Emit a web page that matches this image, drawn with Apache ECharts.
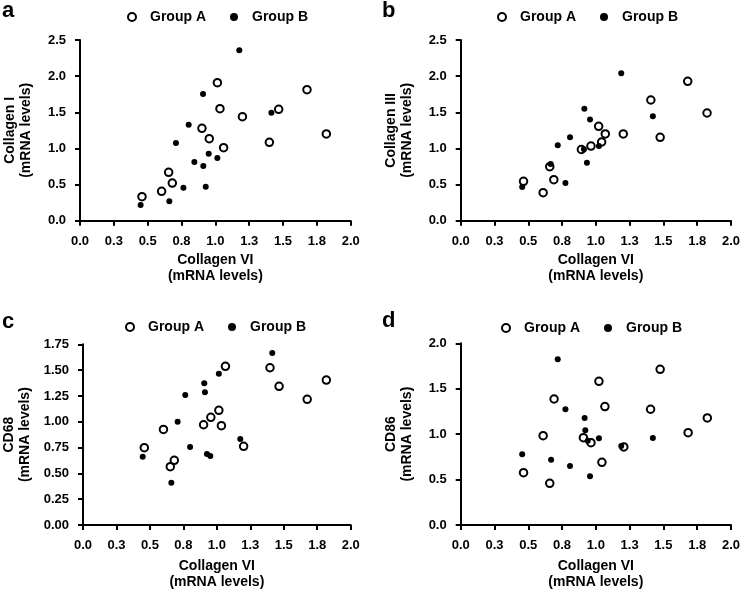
<!DOCTYPE html>
<html>
<head>
<meta charset="utf-8">
<script src="https://cdn.jsdelivr.net/npm/echarts@6/dist/echarts.min.js"></script>
<style>
html,body{margin:0;padding:0;background:#fff;}
#chart{width:743px;height:595px;}
</style>
</head>
<body>
<div id="chart"></div>
<script>
// ---- data (x = Collagen VI mRNA levels, y = panel marker mRNA levels) ----
const xTickLabels = ['0.0','0.3','0.5','0.8','1.0','1.3','1.5','1.8','2.0'];
const yTicksA = ['0.0','0.5','1.0','1.5','2.0','2.5'];
const yTicksB = ['0.0','0.5','1.0','1.5','2.0','2.5'];
const yTicksC = ['0.00','0.25','0.50','0.75','1.00','1.25','1.50','1.75'];
const yTicksD = ['0.0','0.5','1.0','1.5','2.0'];

const panelLetters = ['a','b','c','d'];
const yNames = ['Collagen I','Collagen III','CD68','CD86'];
const xName = 'Collagen VI';
const unitName = '(mRNA levels)';
const seriesNames = ['Group A','Group B'];

const aGroupA = [[0.458,0.332],[0.603,0.406],[0.655,0.669],[0.682,0.521],[0.901,1.278],[0.955,1.135],[1.015,1.909],[1.034,1.55],[1.061,1.01],[1.2,1.439],[1.399,1.085],[1.468,1.541],[1.677,1.813],[1.82,1.2]];
const aGroupB = [[0.448,0.217],[0.66,0.268],[0.709,1.075],[0.764,0.457],[0.803,1.328],[0.845,0.812],[0.909,1.753],[0.911,0.757],[0.929,0.471],[0.951,0.927],[1.015,0.867],[1.177,2.357],[1.414,1.494]];

const bGroupA = [[0.465,0.545],[0.61,0.388],[0.659,0.747],[0.689,0.567],[0.893,0.985],[0.964,1.033],[1.021,1.306],[1.043,1.089],[1.07,1.2],[1.203,1.2],[1.407,1.67],[1.476,1.154],[1.68,1.928],[1.823,1.49]];
const bGroupB = [[0.455,0.466],[0.666,0.784],[0.718,1.043],[0.775,0.522],[0.809,1.154],[0.912,0.99],[0.915,1.55],[0.934,0.803],[0.957,1.4],[1.023,1.033],[1.188,2.04],[1.422,1.444]];

const cGroupA = [[0.458,0.749],[0.601,0.926],[0.652,0.565],[0.682,0.626],[0.901,0.971],[0.955,1.043],[1.015,1.111],[1.034,0.962],[1.064,1.537],[1.2,0.762],[1.397,1.523],[1.465,1.343],[1.675,1.217],[1.818,1.404]];
const cGroupB = [[0.446,0.662],[0.66,0.41],[0.707,1.0],[0.764,1.259],[0.8,0.755],[0.906,1.372],[0.911,1.285],[0.926,0.688],[0.951,0.668],[1.015,1.464],[1.175,0.833],[1.414,1.666]];

const dGroupA = [[0.465,0.576],[0.61,0.983],[0.659,0.459],[0.691,1.387],[0.908,0.961],[0.964,0.906],[1.023,1.582],[1.045,0.69],[1.067,1.303],[1.207,0.859],[1.405,1.274],[1.476,1.714],[1.683,1.016],[1.825,1.178]];
const dGroupB = [[0.455,0.778],[0.669,0.719],[0.718,1.824],[0.775,1.274],[0.809,0.65],[0.917,1.178],[0.922,1.042],[0.94,0.928],[0.957,0.536],[1.023,0.954],[1.188,0.87],[1.422,0.958]];

// ---- layout ----
const FONT = '"Liberation Sans", Arial, Helvetica, sans-serif';
const panels = [
  {grid:{left:80, top:40, width:270.7, height:180.7}, yTicks:yTicksA, yInt:0.5, A:aGroupA, B:aGroupB, legend:{left:127, top:10}, letter:{left:2, top:0}, yGap:46, xGap:31},
  {grid:{left:460.7, top:40, width:271, height:180.7}, yTicks:yTicksB, yInt:0.5, A:bGroupA, B:bGroupB, legend:{left:497, top:10}, letter:{left:382, top:0}, yGap:46, xGap:31},
  {grid:{left:80, top:344.3, width:270.7, height:180.7}, yTicks:yTicksC, yInt:0.25, A:cGroupA, B:cGroupB, legend:{left:125, top:320}, letter:{left:2, top:311}, yGap:50, xGap:33},
  {grid:{left:460.7, top:343.3, width:271, height:181.7}, yTicks:yTicksD, yInt:0.5, A:dGroupA, B:dGroupB, legend:{left:501, top:321}, letter:{left:382, top:310}, yGap:46, xGap:33}
];

const grids = [], xAxes = [], yAxes = [], series = [], legends = [], titles = [];
panels.forEach((p, i) => {
  grids.push(Object.assign({containLabel:false}, p.grid));
  const axisCommon = {
    axisLine:{show:true, onZero:false, lineStyle:{color:'#000', width:2}},
    axisTick:{show:true, inside:false, length:5, lineStyle:{color:'#000', width:2}},
    splitLine:{show:false},
    nameLocation:'middle',
    nameTextStyle:{color:'#000', fontFamily:FONT, fontSize:14, fontWeight:'bold', lineHeight:16}
  };
  xAxes.push(Object.assign({}, axisCommon, {
    type:'value', gridIndex:i, min:0, max:2, interval:0.25,
    name: xName + '\n' + unitName, nameGap:p.xGap,
    axisLabel:{margin:14, color:'#000', fontFamily:FONT, fontSize:13, fontWeight:'bold',
      formatter:(v) => xTickLabels[Math.round(v / 0.25)]}
  }));
  const yMax = (p.yTicks.length - 1) * p.yInt;
  yAxes.push(Object.assign({}, axisCommon, {
    type:'value', gridIndex:i, min:0, max:yMax, interval:p.yInt,
    name: yNames[i] + '\n' + unitName, nameGap:p.yGap, nameRotate:90,
    axisLabel:{margin:14, color:'#000', fontFamily:FONT, fontSize:13, fontWeight:'bold',
      formatter:(v) => p.yTicks[Math.round(v / p.yInt)]}
  }));
  series.push({
    name:seriesNames[0], type:'scatter', xAxisIndex:i, yAxisIndex:i, data:p.A,
    symbol:'circle', symbolSize:7.5,
    itemStyle:{color:'#fff', borderColor:'#000', borderWidth:2, opacity:1},
    emphasis:{disabled:true}, z:2
  });
  series.push({
    name:seriesNames[1], type:'scatter', xAxisIndex:i, yAxisIndex:i, data:p.B,
    symbol:'circle', symbolSize:6,
    itemStyle:{color:'#000', borderWidth:0, opacity:1},
    emphasis:{disabled:true}, z:3
  });
  legends.push({
    data:seriesNames, left:p.legend.left, top:p.legend.top, orient:'horizontal',
    itemWidth:8, itemHeight:8, itemGap:24, padding:0, selectedMode:false,
    textStyle:{color:'#000', fontFamily:FONT, fontSize:14, fontWeight:'bold', padding:[0,0,0,9]}
  });
  titles.push({
    text:panelLetters[i], left:p.letter.left, top:p.letter.top, padding:0,
    textStyle:{color:'#000', fontFamily:FONT, fontSize:22, fontWeight:'bold'}
  });
});

const chart = echarts.init(document.getElementById('chart'), null, {renderer:'canvas'});
chart.setOption({
  backgroundColor:'#fff',
  animation:false,
  title:titles,
  legend:legends,
  grid:grids,
  xAxis:xAxes,
  yAxis:yAxes,
  series:series
});
</script>
</body>
</html>
